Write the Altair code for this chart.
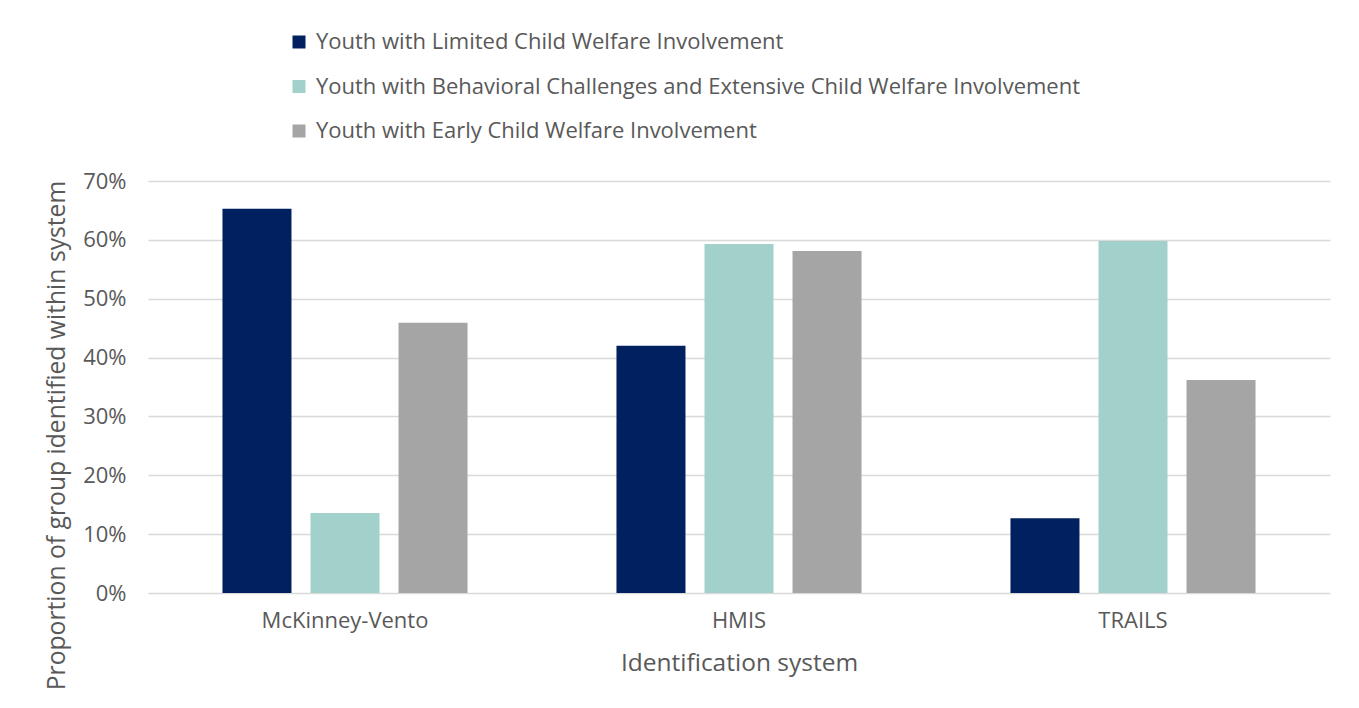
import altair as alt
import pandas as pd

systems = ["McKinney-Vento", "HMIS", "TRAILS"]
groups = [
    "Youth with Limited Child Welfare Involvement",
    "Youth with Behavioral Challenges and Extensive Child Welfare Involvement",
    "Youth with Early Child Welfare Involvement",
]
limited = [0.653, 0.420, 0.127]
behavioral = [0.136, 0.593, 0.598]
early = [0.459, 0.581, 0.362]
colors = ["#002060", "#a2d0ca", "#a5a5a5"]
y_ticks = [0, 0.1, 0.2, 0.3, 0.4, 0.5, 0.6, 0.7]

rows = []
for g, vals in zip(groups, [limited, behavioral, early]):
    for s, v in zip(systems, vals):
        rows.append({"system": s, "group": g, "value": v})
df = pd.DataFrame(rows)

FONT = "Open Sans"
TXT = "#595959"

chart = alt.Chart(df).mark_bar().encode(
    x=alt.X(
        "system:N",
        sort=systems,
        scale=alt.Scale(paddingInner=0.378, paddingOuter=0.189),
        axis=alt.Axis(
            title="Identification system",
            labelAngle=0,
            ticks=False,
            domain=False,
            labelFontSize=22,
            labelPadding=17,
            labelColor=TXT,
            labelFont=FONT,
            titleFontSize=24.5,
            titleFontWeight="normal",
            titleColor=TXT,
            titleFont=FONT,
            titleBaseline="middle",
            titleY=70,
        ),
    ),
    xOffset=alt.XOffset(
        "group:N", sort=groups, scale=alt.Scale(paddingInner=0.216, paddingOuter=0)
    ),
    y=alt.Y(
        "value:Q",
        scale=alt.Scale(domain=[0, 0.7], nice=False),
        axis=alt.Axis(
            title="Proportion of group identified within system",
            values=y_ticks,
            format=".0%",
            ticks=False,
            domain=False,
            labelFontSize=22,
            labelPadding=22,
            labelColor=TXT,
            labelFont=FONT,
            gridColor="#d9d9d9",
            gridWidth=1.5,
            titleFontSize=24.7,
            titleFontWeight="normal",
            titleColor=TXT,
            titleFont=FONT,
            titleAlign="center",
            titleBaseline="middle",
            titleX=-91,
            titleY=254,
        ),
    ),
    color=alt.Color(
        "group:N",
        sort=groups,
        scale=alt.Scale(domain=groups, range=colors),
        legend=alt.Legend(
            title=None,
            orient="none",
            legendX=140,
            legendY=-150,
            direction="vertical",
            symbolType="square",
            symbolSize=169,
            symbolStrokeWidth=0,
            labelFontSize=22,
            labelFont=FONT,
            labelColor=TXT,
            labelOffset=6,
            rowPadding=22.5,
            labelLimit=1000,
        ),
    ),
).properties(
    width=1182,
    height=412,
    autosize=alt.AutoSizeParams(type="none"),
    padding={"left": 140, "top": 173, "right": 21, "bottom": 107},
).configure_view(stroke=None)

chart.save("out.html", embed_options={"renderer": "svg", "actions": False})
